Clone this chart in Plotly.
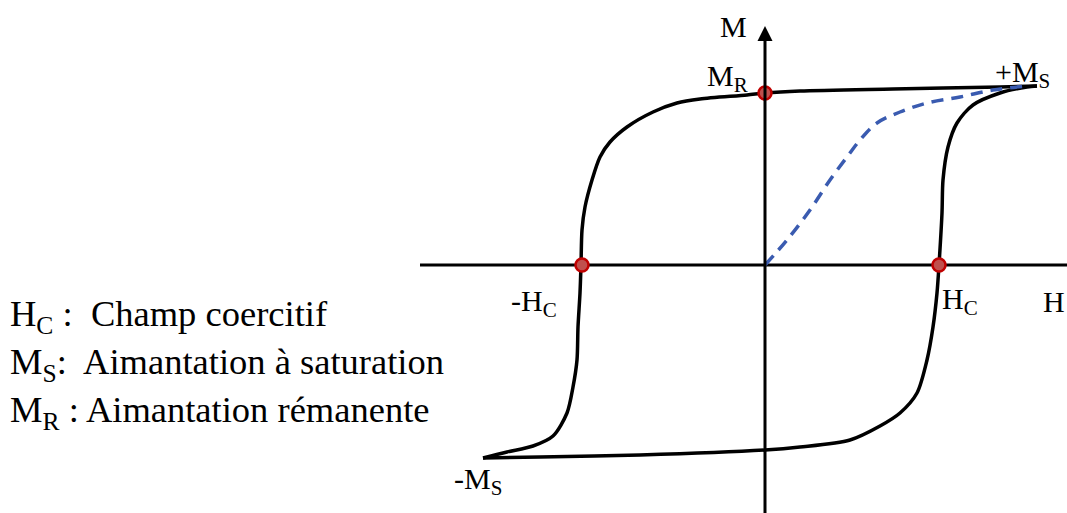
import plotly.graph_objects as go

# Hysteresis loop (H, M in arbitrary units; origin at axis crossing)
upper_H = [272, 235, 128, 35, 0, -18, -65, -88, -112, -138, -155, -165, -173, -180, -183, -184,
           -185, -187, -188, -192, -198, -212, -232, -258, -282]
upper_M = [179, 178, 176, 174, 172, 170, 166, 162, 153, 138, 123, 108, 85, 58, 35, 0,
           -28, -62, -95, -122, -148, -171, -181, -187, -193]

lower_H = [-282, -225, -125, 0, 35, 85, 115, 135, 152, 162, 168, 172, 174, 177, 178, 183,
           192, 208, 235, 262, 272]
lower_M = [-193, -192, -190, -185, -182, -175, -161, -148, -128, -95, -62, -28, 0, 52, 85, 118,
           142, 160, 172, 178, 179]

virgin_H = [0, 22, 45, 65, 82, 95, 112, 135, 162, 195, 228, 262]
virgin_M = [0, 25, 55, 85, 108, 125, 142, 153, 162, 168, 175, 179]

points_H = [0, -183, 174]
points_M = [172, 0, 0]

legend_lines = [
    "H<sub>C</sub> :  Champ coercitif",
    "M<sub>S</sub>:  Aimantation à saturation",
    "M<sub>R</sub> : Aimantation rémanente",
]

FONT = "Liberation Serif, Times New Roman, serif"

fig = go.Figure()

fig.add_trace(go.Scatter(x=upper_H, y=upper_M, mode="lines",
                         line=dict(color="black", width=3.5, shape="spline", smoothing=0.8),
                         hoverinfo="skip"))
fig.add_trace(go.Scatter(x=lower_H, y=lower_M, mode="lines",
                         line=dict(color="black", width=3.5, shape="spline", smoothing=0.8),
                         hoverinfo="skip"))
fig.add_trace(go.Scatter(x=virgin_H, y=virgin_M, mode="lines",
                         line=dict(color="#3a5bb0", width=3.5, dash="12px,8px", shape="spline",
                                   smoothing=1.0),
                         hoverinfo="skip"))
fig.add_trace(go.Scatter(x=points_H, y=points_M, mode="markers",
                         marker=dict(size=13, color="#c0504d", line=dict(color="#c00000", width=2.5)),
                         hoverinfo="skip"))

# axes
fig.add_shape(type="line", x0=-345, x1=310, y0=0, y1=0, line=dict(color="black", width=3), layer="below")
fig.add_annotation(x=0, y=239, ax=0, ay=-260, xref="x", yref="y", axref="x", ayref="y",
                   text="", showarrow=True, arrowhead=2, arrowsize=1.0, arrowwidth=3,
                   arrowcolor="black")

lab = dict(family=FONT, size=30, color="black")
fig.add_annotation(x=-32, y=239, text="M", showarrow=False, font=lab, xanchor="center", yanchor="middle")
fig.add_annotation(x=-38, y=187, text="M<sub>R</sub>", showarrow=False, font=lab, xanchor="center", yanchor="middle")
fig.add_annotation(x=257, y=191, text="+M<sub>S</sub>", showarrow=False, font=lab, xanchor="center", yanchor="middle")
fig.add_annotation(x=-231, y=-38, text="-H<sub>C</sub>", showarrow=False, font=lab, xanchor="center", yanchor="middle")
fig.add_annotation(x=195, y=-36, text="H<sub>C</sub>", showarrow=False, font=lab, xanchor="center", yanchor="middle")
fig.add_annotation(x=302, y=-36, text="H", showarrow=False, font=lab, xanchor="right", yanchor="middle")
fig.add_annotation(x=-287, y=-216, text="-M<sub>S</sub>", showarrow=False, font=lab, xanchor="center", yanchor="middle")

leg_font = dict(family=FONT, size=36.5, color="black")
for i, txt in enumerate(legend_lines):
    fig.add_annotation(x=-757, y=-51 - i * 48, text=txt, showarrow=False, font=leg_font,
                       xanchor="left", yanchor="middle")

fig.update_layout(
    width=1067, height=513,
    margin=dict(l=0, r=0, t=0, b=0),
    paper_bgcolor="white", plot_bgcolor="white",
    showlegend=False,
    xaxis=dict(range=[-765, 302], visible=False, fixedrange=True),
    yaxis=dict(range=[-248, 265], visible=False, fixedrange=True),
)

fig.write_html("out.html", config={"displayModeBar": False, "staticPlot": True},
               post_script="document.body.style.margin='0';document.body.style.overflow='hidden';")
